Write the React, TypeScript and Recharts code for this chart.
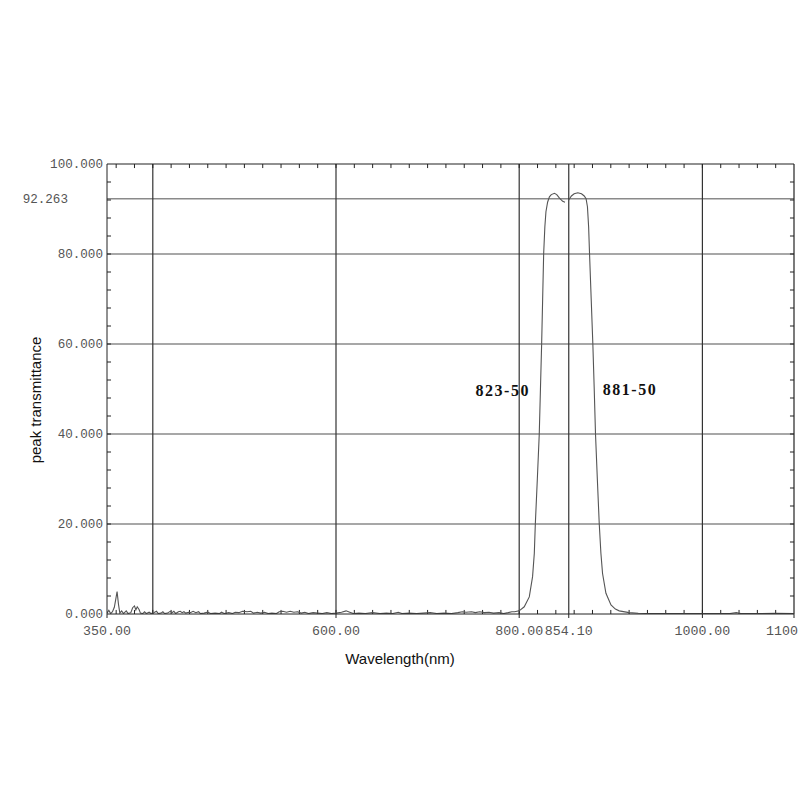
import {
  LineChart,
  Line,
  XAxis,
  YAxis,
  ReferenceLine,
  ReferenceDot,
} from "recharts";

// baseline noise 350-800 nm
const baseWl = [
  350, 352, 354, 356, 358, 359.5, 361, 362.5, 364, 366, 368, 371, 373, 376,
  378, 380, 381.5, 383, 385, 386.5, 389, 391, 393, 396, 398, 401, 404, 406,
  409, 411, 413, 416, 419, 421, 423, 425, 428, 430, 432, 434, 436, 439, 441,
  444, 447, 450, 452, 456, 460, 463, 468, 473, 475, 478, 483, 487, 490, 494,
  498, 503, 507, 510, 514, 518, 522, 526, 530, 535, 538, 542, 546, 550, 554,
  558, 562, 566, 570, 575, 580, 585, 590, 595, 600, 606, 611, 615, 619, 625,
  632, 640, 648, 655, 662, 668, 672, 680, 688, 695, 703, 710, 718, 726, 733,
  738, 742, 748, 752, 757, 762, 767, 772, 778, 783, 788, 792, 795,
];
const baseT = [
  0.2, 0.8, 0.1, 0.5, 1.5, 3.2, 5.0, 2.2, 0.2, 0.7, 0.1, 0.7, 0.1, 0.3,
  1.4, 1.8, 0.9, 1.6, 1.0, 0.2, 0.1, 0.5, 0.1, 0.4, 0.1, 0.3, 0.6, 0.1,
  0.2, 0.5, 0.1, 0.2, 0.6, 0.3, 0.6, 0.1, 0.5, 0.6, 0.3, 0.5, 0.2, 0.4, 0.3,
  0.6, 0.3, 0.5, 0.1, 0.2, 0.4, 0.1, 0.2, 0.1, 0.4, 0.1, 0.3, 0.1, 0.4, 0.3,
  0.6, 0.5, 0.6, 0.2, 0.4, 0.2, 0.4, 0.1, 0.2, 0.1, 0.5, 0.6, 0.4, 0.6, 0.4,
  0.5, 0.2, 0.4, 0.1, 0.3, 0.2, 0.1, 0.3, 0.1, 0.2, 0.4, 0.7, 0.4, 0.1, 0.2,
  0.1, 0.3, 0.1, 0.2, 0.1, 0.4, 0.1, 0.2, 0.1, 0.2, 0.3, 0.1, 0.2, 0.1, 0.3,
  0.5, 0.4, 0.5, 0.3, 0.5, 0.3, 0.4, 0.2, 0.3, 0.1, 0.3, 0.5, 0.5,
];

// pass band (two filters, 823-50 and 881-50), gap between them
const bandWl = [
  800, 805.5, 811, 814.6, 816.5, 817.6, 819.8, 821.9, 823.2, 824.5, 825.6,
  826.7, 828, 829.2, 831, 833, 835, 838.5, 841, 844, 847.5, 850, 852, 854,
  857, 860, 864, 868, 871, 873, 874.5, 875.8, 876.8, 878.6, 880.4, 881.9,
  883.3, 885.3, 887.4, 889.2, 891, 894.7, 900.2, 905, 909.2, 920,
];
const bandT: (number | null)[] = [
  0.7, 1.6, 3.8, 8.3, 13.5, 20, 30, 40, 50, 60, 70,
  80, 86, 89.4, 91.5, 92.7, 93.2, 93.5, 93.2, 92.4, 91.7, 91.5, null, 92.0,
  92.9, 93.4, 93.6, 93.4, 92.9, 92.3, 90.5, 86, 80, 70, 60, 50,
  40, 30, 20, 13.5, 9, 4.6, 2, 1.1, 0.7, 0.3,
];

// long-wave tail
const tailWl = [930, 945, 960, 975, 990, 1010, 1030, 1037, 1042, 1060, 1080, 1100];
const tailT = [0.15, 0.1, 0.1, 0.1, 0.1, 0.1, 0.1, 0.3, 0.1, 0.1, 0.15, 0.1];

const X_MIN = 350;
const X_MAX = 1100;
const xTicks = [350, 600, 800, 854.1, 1000, 1100];
const xGrid = [400, 600, 800, 854.1, 1000];
const xMinor = [
  360, 380, 400, 420, 440, 460, 480, 500, 520, 540, 560, 580, 600, 620, 640,
  660, 680, 700, 720, 740, 760, 780, 800, 820, 840, 860, 880, 900, 920, 940,
  960, 980, 1000, 1020, 1040, 1060, 1080,
];
const PEAK = 92.263;
const yTicks = [0, 20, 40, 60, 80, PEAK, 100];
const yGrid = [20, 40, 60, 80, PEAK];
const yMinor = [
  4, 8, 12, 16, 20, 24, 28, 32, 36, 40, 44, 48, 52, 56, 60, 64, 68, 72, 76,
  80, 84, 88, 92, 96,
];

const bandLabels = [
  { name: "823-50", x: 782, y: 49.6 },
  { name: "881-50", x: 921, y: 50 },
];

const wl = [...baseWl, ...bandWl, ...tailWl];
const tr = [...baseT, ...bandT, ...tailT];
const data = wl.map((w, i) => ({ wl: w, t: tr[i] }));

// inner tick length, in data units (about 4px)
const TX = 4.4;
const TY = 0.9;

const tickFont = {
  fill: "#555",
  fontSize: 12.6,
  fontFamily: "Liberation Mono",
};
const xTickFont = { ...tickFont, fontSize: 13.3 };

function YTick(props: any) {
  const { x, y, payload } = props;
  const special = payload.value === PEAK;
  return (
    <text
      x={special ? x - 35 : x}
      y={y}
      dy="0.35em"
      textAnchor="end"
      {...tickFont}
    >
      {payload.value.toFixed(3)}
    </text>
  );
}

export default function App() {
  return (
    <div
      style={{
        position: "absolute",
        left: 0,
        top: 0,
        width: 800,
        height: 800,
        overflow: "hidden",
        background: "#fff",
      }}
    >
      <LineChart
        width={800}
        height={800}
        data={data}
        margin={{ top: 164, right: 6, bottom: 156, left: 0 }}
      >
        <XAxis
          dataKey="wl"
          type="number"
          domain={[X_MIN, X_MAX]}
          ticks={xTicks}
          interval={0}
          tickFormatter={(v: number) => v.toFixed(2)}
          tick={xTickFont}
          tickSize={4}
          tickMargin={8}
          height={30}
          stroke="#222"
          allowDataOverflow
        />
        <YAxis
          type="number"
          domain={[0, 100]}
          ticks={yTicks}
          interval={0}
          tick={<YTick />}
          tickLine={false}
          tickSize={0}
          tickMargin={4}
          width={107}
          stroke="#222"
          allowDataOverflow
        />
        {yGrid.map((v) => (
          <ReferenceLine key={"h" + v} y={v} stroke="#8a8a8a" strokeWidth={1.5} />
        ))}
        {xGrid.map((v) => (
          <ReferenceLine key={"v" + v} x={v} stroke="#333" strokeWidth={1.2} />
        ))}
        {/* frame: top and right */}
        <ReferenceLine y={100} stroke="#222" strokeWidth={1.2} ifOverflow="visible" />
        <ReferenceLine x={X_MAX} stroke="#222" strokeWidth={1.2} ifOverflow="visible" />
        {/* inner minor ticks */}
        {xMinor.map((v) => (
          <ReferenceLine
            key={"bt" + v}
            segment={[{ x: v, y: 0 }, { x: v, y: TY }]}
            stroke="#222"
          />
        ))}
        {xMinor.map((v) => (
          <ReferenceLine
            key={"tt" + v}
            segment={[{ x: v, y: 100 }, { x: v, y: 100 - TY }]}
            stroke="#222"
          />
        ))}
        {yMinor.map((v) => (
          <ReferenceLine
            key={"lt" + v}
            segment={[{ x: X_MIN, y: v }, { x: X_MIN + TX, y: v }]}
            stroke="#222"
          />
        ))}
        {yMinor.map((v) => (
          <ReferenceLine
            key={"rt" + v}
            segment={[{ x: X_MAX, y: v }, { x: X_MAX - TX, y: v }]}
            stroke="#222"
          />
        ))}
        <Line
          dataKey="t"
          type="linear"
          stroke="#555"
          strokeWidth={1.1}
          dot={false}
          connectNulls={false}
          isAnimationActive={false}
        />
        {bandLabels.map((b) => (
          <ReferenceDot
            key={b.name}
            x={b.x}
            y={b.y}
            r={1}
            fill="none"
            stroke="none"
            label={{
              value: b.name,
              position: "center",
              fill: "#111",
              fontSize: 16,
              fontWeight: "bold",
              fontFamily: "Liberation Serif",
              letterSpacing: 1.5,
            }}
          />
        ))}
      </LineChart>
      <div
        style={{
          position: "absolute",
          left: 0,
          width: 800,
          top: 650,
          textAlign: "center",
          fontFamily: "Liberation Sans",
          fontSize: 15,
          color: "#111",
        }}
      >
        Wavelength(nm)
      </div>
      <div
        style={{
          position: "absolute",
          left: 35,
          top: 400,
          transform: "translate(-50%, -50%) rotate(-90deg)",
          whiteSpace: "nowrap",
          fontFamily: "Liberation Sans",
          fontSize: 15,
          color: "#111",
        }}
      >
        peak transmittance
      </div>
    </div>
  );
}
